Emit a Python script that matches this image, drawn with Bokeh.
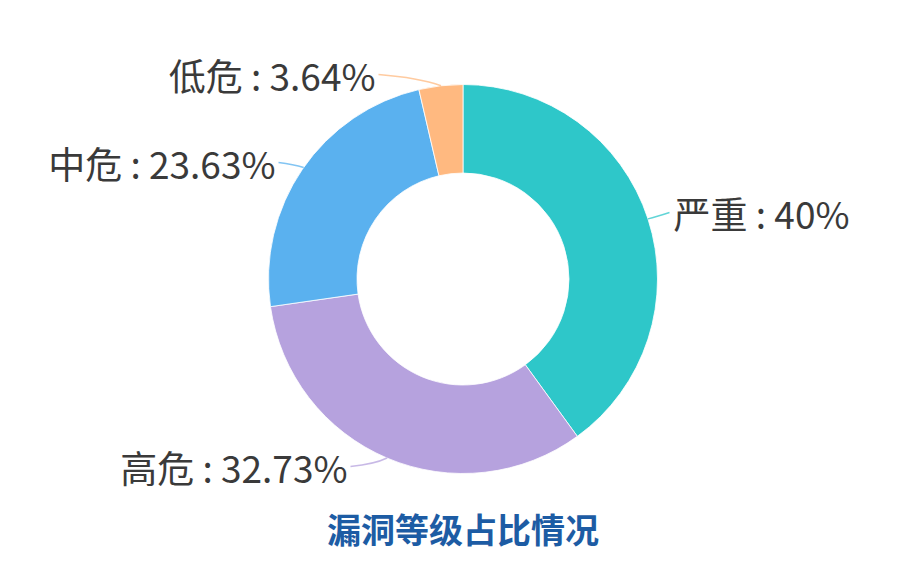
import math
from bokeh.plotting import figure
from bokeh.models import Range1d, ColumnDataSource
from bokeh.core.properties import value
from bokeh.embed import file_html
from bokeh.resources import INLINE

# ---- data ----
categories = ["严重", "高危", "中危", "低危"]
percents = [40, 32.73, 23.63, 3.64]
colors = ["#2ec7c9", "#b6a2de", "#5ab1ef", "#ffb980"]
title_text = "漏洞等级占比情况"

# ---- layout (screen pixels: data x = px, data y = H - px) ----
W, H = 884, 555
def Y(py):
    return H - py

cx, cy = 462.5, Y(278.5)
r_out, r_in = 194.5, 106

p = figure(width=W, height=H, output_backend="svg", toolbar_location=None,
           x_range=Range1d(0, W), y_range=Range1d(0, H),
           min_border=0, outline_line_color=None)
p.axis.visible = False
p.grid.visible = False
p.background_fill_color = "white"
p.border_fill_color = "white"

total = sum(percents)
theta0, theta1 = [], []
acc = 0.0
for v in percents:
    theta0.append(acc / total * 2 * math.pi)
    acc += v
    theta1.append(acc / total * 2 * math.pi)

src = ColumnDataSource(dict(
    start=[math.pi / 2 - t1 for t1 in theta1],
    end=[math.pi / 2 - t0 for t0 in theta0],
    color=colors, cat=categories))
p.annular_wedge(x=cx, y=cy, inner_radius=r_in, outer_radius=r_out,
                start_angle="start", end_angle="end", direction="anticlock",
                fill_color="color", line_color="white", line_width=0.8, source=src)

# ---- labels and leader lines ----
label_angles_deg = [72, 203, 305, 353.5]          # edge anchor (clockwise from top)
label_pos = [(673, 212, "left"), (347, 466, "right"),
             (275, 162, "right"), (375, 74, "right")]
ctrl_off = [(8, -2), (-12, 6), (-10, -3), (-22, -8)]

for i, cat in enumerate(categories):
    a = math.radians(label_angles_deg[i])
    ex = cx + r_out * math.sin(a)
    ey = cy + r_out * math.cos(a)
    lx, ly, align = label_pos[i]
    endx = lx - 4 if align == "left" else lx + 3
    ctx = ex + ctrl_off[i][0]
    cty = ey - ctrl_off[i][1]
    p.quadratic(x0=[ex], y0=[ey], x1=[endx], y1=[Y(ly)], cx=[ctx], cy=[cty],
                line_color=colors[i], line_alpha=0.75, line_width=1.5)
    txt = f"{cat} : {percents[i]:g}%"
    p.text(x=[lx], y=[Y(ly)], text=[txt], text_align=align,
           text_baseline="middle", text_font=value("Noto Sans CJK SC"),
           text_font_size="37px", text_color="#3a3a3a")

p.text(x=[cx], y=[Y(528)], text=[title_text], text_align="center",
       text_baseline="middle", text_font=value("Noto Sans CJK SC"),
       text_font_size="34px", text_font_style="bold", text_color="#1d5ca4")

open("out.html", "w").write(file_html(p, INLINE))
